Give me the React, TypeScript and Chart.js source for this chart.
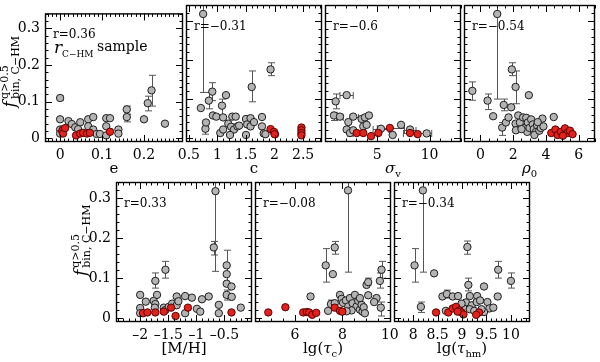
import React, { useEffect, useRef } from "react";
import { Chart, registerables } from "chart.js";
Chart.register(...registerables);

type Pt = [number, number];
type Bar = [number, number, number];

// ---------- shared y axis ----------
const fTicks = [0, 0.1, 0.2, 0.3];
const fMin = -0.01;
const fMax = 0.341;
const fMinorStep = 0.02;

// ---------- panel 1 : e ----------
const eTicks = [0, 0.1, 0.2];
const eGray: Pt[] = [[0.0,0.110],[0.0,0.052],[0.0,0.024],[0.0,0.013],[0.007,0.025],[0.02,0.047],[0.028,0.039],[0.036,0.030],[0.048,0.044],[0.043,0.025],[0.067,0.052],[0.079,0.058],[0.067,0.033],[0.079,0.024],[0.087,0.012],[0.095,0.012],[0.11,0.055],[0.119,0.055],[0.11,0.033],[0.11,0.008],[0.139,0.024],[0.139,0.013],[0.159,0.079],[0.159,0.058],[0.2,0.052],[0.209,0.096],[0.218,0.131],[0.25,0.04]];
const eRed: Pt[] = [[0.005,0.02],[0.007,0.013],[0.012,0.028],[0.038,0.008],[0.048,0.013],[0.055,0.015],[0.064,0.013],[0.071,0.015],[0.119,0.018]];
const eErr: Bar[] = [[0,0.104,0.116],[0.159,0.066,0.088],[0.159,0.045,0.065],[0.209,0.075,0.115],[0.218,0.088,0.172]];

// ---------- panel 2 : c ----------
const cTicks = [0.5, 1, 1.5, 2, 2.5];
const cGray: Pt[] = [[0.75,0.318],[0.71,0.077],[0.79,0.024],[0.8,0.04],[0.85,0.096],[0.91,0.119],[0.92,0.058],[0.98,0.055],[1.08,0.083],[1.15,0.11],[1.1,0.053],[1.05,0.013],[1.1,0.022],[1.19,0.037],[1.24,0.029],[1.26,0.055],[1.32,0.055],[1.29,0.022],[1.35,0.03],[1.38,0.032],[1.22,0.008],[1.5,0.008],[1.5,0.049],[1.52,0.035],[1.58,0.051],[1.58,0.03],[1.64,0.041],[1.6,0.131],[1.78,0.054],[1.78,0.03],[1.81,0.012],[1.84,0.01],[1.93,0.176],[2.01,0.01]];
const cRed: Pt[] = [[1.93,0.023],[1.99,0.016],[2.0,0.01],[2.47,0.027],[2.47,0.02],[2.47,0.013],[2.47,0.007]];
const cErr: Bar[] = [[0.75,0.117,0.36],[0.79,0.01,0.04],[0.85,0.075,0.117],[0.91,0.096,0.142],[1.08,0.058,0.1],[1.6,0.093,0.172],[1.93,0.16,0.193]];

// ---------- panel 3 : sigma_v ----------
const sTicks = [5, 10];
const sGray: Pt[] = [[2.07,0.11],[1.02,0.094],[0.86,0.058],[1.43,0.055],[2.23,0.041],[2.7,0.055],[3.5,0.049],[3.82,0.053],[4.2,0.058],[2.07,0.022],[2.39,0.013],[2.7,0.02],[3.66,0.03],[3.98,0.034],[5.35,0.024],[7.27,0.034],[8.13,0.022],[9.72,0.012],[6.47,0.008]];
const sRed: Pt[] = [[3.03,0.013],[3.66,0.013],[4.4,0.005],[5.1,0.013],[6.2,0.026],[8.13,0.013],[8.86,0.01]];
const sErr: Bar[] = [[1.02,0.075,0.113],[0.86,0.045,0.066],[2.39,0.005,0.02]];
const sErrX: Bar[] = [[0.11,1.43,2.7],[0.055,1.1,1.75],[0.055,2.4,3.2],[0.024,4.6,6.1],[0.026,5.0,7.6],[0.022,7.6,8.7],[0.013,7.5,8.7],[0.012,8.1,10.2]];

// ---------- panel 4 : rho_0 ----------
const rTicks = [0, 2, 4, 6];
const rGray: Pt[] = [[-0.49,0.121],[0.44,0.096],[0.78,0.056],[1.03,0.318],[1.43,0.085],[1.33,0.027],[1.56,0.04],[1.72,0.053],[1.88,0.079],[1.92,0.176],[2.15,0.131],[2.15,0.037],[2.17,0.02],[2.31,0.058],[2.41,0.04],[2.61,0.053],[2.75,0.027],[2.8,0.052],[2.9,0.04],[2.86,0.016],[3.0,0.026],[3.1,0.048],[3.2,0.035],[3.26,0.023],[3.4,0.016],[3.46,0.033],[3.3,0.008],[3.6,0.019],[3.69,0.026],[3.85,0.03],[3.79,0.05],[3.5,0.041],[2.51,0.023],[2.96,0.11],[4.48,0.054]];
const rRed: Pt[] = [[4.33,0.013],[4.58,0.022],[4.72,0.008],[4.92,0.016],[5.17,0.025],[5.31,0.013],[5.47,0.019],[5.63,0.01],[5.04,0.006]];
const rErr: Bar[] = [[-0.49,0.097,0.144],[0.44,0.073,0.113],[1.03,0.1,0.36],[1.43,0.07,0.1],[1.33,0.007,0.04],[1.92,0.16,0.193],[2.15,0.088,0.172]];

// ---------- panel 5 : [M/H] ----------
const mTicks = [-2, -1.5, -1, -0.5];
const mGray: Pt[] = [[-0.66,0.318],[-0.69,0.177],[-0.46,0.132],[-0.46,0.11],[-0.46,0.086],[-0.46,0.058],[-0.375,0.079],[-0.37,0.053],[-0.6,0.033],[-0.6,0.012],[-0.21,0.026],[-0.78,0.054],[-0.9,0.047],[-0.99,0.023],[-0.93,0.016],[-1.08,0.051],[-1.2,0.055],[-1.35,0.054],[-1.2,0.012],[-1.55,0.121],[-1.73,0.093],[-2.0,0.058],[-2.0,0.025],[-2.0,0.012],[-1.9,0.041],[-1.76,0.043],[-1.73,0.035],[-1.74,0.026],[-1.7,0.058],[-1.58,0.026],[-1.55,0.02],[-1.49,0.028],[-1.43,0.036],[-1.35,0.032],[-1.32,0.042]];
const mRed: Pt[] = [[-1.95,0.012],[-1.87,0.014],[-1.73,0.014],[-1.58,0.016],[-1.45,0.026],[-1.37,0.005],[-1.15,0.026],[-0.375,0.014]];
const mErr: Bar[] = [[-0.66,0.117,0.36],[-0.69,0.158,0.192],[-0.46,0.087,0.17],[-1.55,0.1,0.142],[-1.73,0.075,0.113],[-0.46,0.045,0.07]];

// ---------- panel 6 : lg(tau_c) ----------
const tcTicks = [6, 8, 10];
const tcGray: Pt[] = [[7.3,0.132],[7.68,0.177],[7.6,0.11],[8.24,0.32],[6.66,0.054],[7.4,0.018],[7.52,0.035],[7.68,0.037],[7.9,0.058],[7.97,0.048],[8.03,0.038],[8.15,0.044],[8.25,0.029],[8.32,0.05],[8.43,0.037],[8.53,0.058],[8.6,0.029],[8.67,0.043],[8.74,0.021],[8.81,0.033],[8.85,0.016],[8.9,0.027],[8.95,0.012],[8.74,0.05],[8.39,0.019],[8.18,0.017],[9.09,0.057],[9.02,0.083],[9.09,0.09],[9.44,0.05],[9.34,0.04],[9.58,0.093],[9.65,0.121],[9.62,0.026]];
const tcRed: Pt[] = [[4.88,0.014],[5.6,0.027],[6.35,0.014],[6.5,0.015],[6.6,0.014],[6.73,0.008],[6.9,0.013],[7.68,0.026],[7.9,0.018],[8.0,0.016]];
const tcErr: Bar[] = [[7.3,0.09,0.174],[7.68,0.16,0.192],[8.24,0.115,0.36],[9.58,0.075,0.113],[9.65,0.1,0.142],[9.62,0.005,0.04],[7.52,0.025,0.045],[9.09,0.083,0.1]];

// ---------- panel 7 : lg(tau_hm) ----------
const thTicks = [8, 8.5, 9, 9.5, 10];
const thGray: Pt[] = [[8.2,0.32],[8.03,0.132],[8.16,0.028],[8.43,0.112],[8.6,0.054],[8.69,0.06],[8.81,0.054],[8.92,0.055],[8.67,0.018],[9.11,0.178],[9.13,0.083],[9.45,0.079],[9.74,0.121],[10.0,0.093],[9.73,0.054],[9.16,0.055],[9.31,0.055],[9.08,0.039],[9.2,0.032],[9.3,0.04],[9.37,0.044],[9.52,0.04],[9.56,0.024],[9.64,0.026],[9.45,0.015],[9.03,0.024],[9.16,0.022],[9.25,0.018],[9.4,0.022],[8.99,0.036]];
const thRed: Pt[] = [[8.47,0.014],[8.72,0.014],[8.81,0.024],[8.88,0.028],[8.95,0.019],[8.99,0.014],[9.03,0.009],[9.35,0.014],[9.29,0.008],[8.91,0.016]];
const thErr: Bar[] = [[8.2,0.115,0.36],[8.03,0.09,0.174],[8.16,0.014,0.04],[8.69,0.05,0.07],[9.11,0.16,0.193],[9.13,0.068,0.1],[9.74,0.1,0.142],[10.0,0.075,0.113]];

const rValues = ["r=0.36", "r=\u22120.31", "r=\u22120.6", "r=\u22120.54", "r=0.33", "r=\u22120.08", "r=\u22120.34"];

// ---------- layout ----------
type Run = { t: string; sub?: boolean; it?: boolean };
interface Spec {
  id: string;
  box: [number, number, number, number];
  xMin: number; xMax: number; xTicks: number[]; xMinor: number;
  yLabels: boolean;
  gray: Pt[]; red: Pt[]; errY: Bar[]; errX: Bar[];
  r: string; title: Run[]; sample?: boolean;
}

const FONT = "'DejaVu Serif', serif";
const XH = 30;
const YW = 40;

const specs: Spec[] = [
  { id: "e", box: [45, 3, 183, 142], xMin: -0.036, xMax: 0.293, xTicks: eTicks, xMinor: 0.01, yLabels: true, gray: eGray, red: eRed, errY: eErr, errX: [], r: rValues[0], title: [{ t: "e" }], sample: true },
  { id: "c", box: [186, 3, 322, 142], xMin: 0.45, xMax: 2.83, xTicks: cTicks, xMinor: 0.1, yLabels: false, gray: cGray, red: cRed, errY: cErr, errX: [], r: rValues[1], title: [{ t: "c" }] },
  { id: "s", box: [325, 3, 461, 142], xMin: 0, xMax: 13, xTicks: sTicks, xMinor: 1, yLabels: false, gray: sGray, red: sRed, errY: sErr, errX: sErrX, r: rValues[2], title: [{ t: "\u03C3", it: true }, { t: "v", sub: true }] },
  { id: "r", box: [464, 3, 599, 142], xMin: -1, xMax: 7, xTicks: rTicks, xMinor: 0.5, yLabels: false, gray: rGray, red: rRed, errY: rErr, errX: [], r: rValues[3], title: [{ t: "\u03C1", it: true }, { t: "0", sub: true }] },
  { id: "m", box: [116, 182, 252, 322], xMin: -2.43, xMax: -0.01, xTicks: mTicks, xMinor: 0.1, yLabels: true, gray: mGray, red: mRed, errY: mErr, errX: [], r: rValues[4], title: [{ t: "[M/H]" }] },
  { id: "tc", box: [255, 182, 391, 322], xMin: 4.32, xMax: 10.05, xTicks: tcTicks, xMinor: 0.5, yLabels: false, gray: tcGray, red: tcRed, errY: tcErr, errX: [], r: rValues[5], title: [{ t: "lg(" }, { t: "\u03C4", it: true }, { t: "c", sub: true }, { t: ")" }] },
  { id: "th", box: [394, 182, 530, 322], xMin: 7.61, xMax: 10.39, xTicks: thTicks, xMinor: 0.1, yLabels: false, gray: thGray, red: thRed, errY: thErr, errX: [], r: rValues[6], title: [{ t: "lg(" }, { t: "\u03C4", it: true }, { t: "hm", sub: true }, { t: ")" }] },
];

const fmt = (v: number) => String(Math.round(v * 1000) / 1000).replace("-", "\u2013");

function minorVals(min: number, max: number, step: number): number[] {
  const out: number[] = [];
  const i0 = Math.ceil(min / step - 1e-6);
  const i1 = Math.floor(max / step + 1e-6);
  for (let i = i0; i <= i1; i++) out.push(i * step);
  return out;
}

function drawRuns(ctx: CanvasRenderingContext2D, runs: Run[], x: number, y: number, size: number, center: boolean) {
  const fontOf = (r: Run) => `${r.it ? "italic " : ""}${r.sub ? Math.round(size * 0.68) : size}px ${FONT}`;
  let w = 0;
  for (const r of runs) { ctx.font = fontOf(r); w += ctx.measureText(r.t).width; }
  let cx = center ? x - w / 2 : x;
  ctx.textBaseline = "alphabetic";
  ctx.textAlign = "left";
  for (const r of runs) {
    ctx.font = fontOf(r);
    ctx.fillText(r.t, cx, y + (r.sub ? size * 0.28 : 0));
    cx += ctx.measureText(r.t).width;
  }
}

function drawYTitle(ctx: CanvasRenderingContext2D, x: number, y: number) {
  ctx.save();
  ctx.translate(x, y);
  ctx.rotate(-Math.PI / 2);
  ctx.fillStyle = "#000";
  ctx.textBaseline = "alphabetic";
  ctx.textAlign = "left";
  ctx.font = `italic 17px ${FONT}`;
  ctx.fillText("f", 0, 0);
  const x0 = ctx.measureText("f").width + 2;
  ctx.font = `11px ${FONT}`;
  ctx.fillText("q>0.5", x0, -7);
  ctx.fillText("bin, C\u2212HM", x0, 4);
  ctx.restore();
}

const decor = {
  id: "decor",
  beforeDatasetsDraw(chart: any) {
    const spec: Spec = chart.options.plugins.decor.spec;
    const { ctx, chartArea: a } = chart;
    const xs = chart.scales.x, ys = chart.scales.y;
    ctx.save();
    ctx.beginPath();
    ctx.rect(a.left, a.top, a.right - a.left, a.bottom - a.top);
    ctx.clip();
    ctx.strokeStyle = "#555";
    ctx.lineWidth = 1;
    const cap = 3.5;
    for (const [x, lo, hi] of spec.errY) {
      const px = Math.round(xs.getPixelForValue(x)) + 0.5;
      const p1 = ys.getPixelForValue(lo), p2 = ys.getPixelForValue(hi);
      ctx.beginPath();
      ctx.moveTo(px, p1); ctx.lineTo(px, p2);
      ctx.moveTo(px - cap, p1); ctx.lineTo(px + cap, p1);
      ctx.moveTo(px - cap, p2); ctx.lineTo(px + cap, p2);
      ctx.stroke();
    }
    for (const [y, lo, hi] of spec.errX) {
      const py = Math.round(ys.getPixelForValue(y)) + 0.5;
      const p1 = xs.getPixelForValue(lo), p2 = xs.getPixelForValue(hi);
      ctx.beginPath();
      ctx.moveTo(p1, py); ctx.lineTo(p2, py);
      ctx.moveTo(p1, py - cap); ctx.lineTo(p1, py + cap);
      ctx.moveTo(p2, py - cap); ctx.lineTo(p2, py + cap);
      ctx.stroke();
    }
    ctx.restore();
  },
  afterDraw(chart: any) {
    const spec: Spec = chart.options.plugins.decor.spec;
    const { ctx, chartArea: a } = chart;
    const xs = chart.scales.x, ys = chart.scales.y;
    ctx.save();
    ctx.strokeStyle = "#000";
    ctx.lineWidth = 1;
    const majL = 7, minL = 3.5;
    ctx.beginPath();
    const tickX = (v: number, len: number) => {
      const px = Math.round(xs.getPixelForValue(v)) + 0.5;
      ctx.moveTo(px, a.bottom); ctx.lineTo(px, a.bottom - len);
      ctx.moveTo(px, a.top); ctx.lineTo(px, a.top + len);
    };
    const tickY = (v: number, len: number) => {
      const py = Math.round(ys.getPixelForValue(v)) + 0.5;
      ctx.moveTo(a.left, py); ctx.lineTo(a.left + len, py);
      ctx.moveTo(a.right, py); ctx.lineTo(a.right - len, py);
    };
    minorVals(spec.xMin, spec.xMax, spec.xMinor).forEach(v => tickX(v, minL));
    spec.xTicks.forEach(v => tickX(v, majL));
    minorVals(fMin, fMax, fMinorStep).forEach(v => tickY(v, minL));
    fTicks.forEach(v => tickY(v, majL));
    ctx.stroke();
    ctx.lineWidth = 1.4;
    ctx.strokeRect(a.left + 0.5, a.top + 0.5, a.right - a.left - 1, a.bottom - a.top - 1);

    ctx.fillStyle = "#000";
    ctx.font = `12px ${FONT}`;
    ctx.textAlign = "left";
    ctx.textBaseline = "alphabetic";
    ctx.fillText(spec.r, a.left + 8, a.top + 25);

    if (spec.sample) {
      drawRuns(ctx, [{ t: "r", it: true }], a.left + 9, a.top + 40, 17, false);
      ctx.font = `9px ${FONT}`;
      ctx.fillText("C\u2212HM", a.left + 17, a.top + 44);
      ctx.font = `14px ${FONT}`;
      ctx.fillText("sample", a.left + 52, a.top + 38);
    }

    drawRuns(ctx, spec.title, (a.left + a.right) / 2, a.bottom + 31, 15, true);

    if (spec.yLabels) drawYTitle(ctx, a.left - 30, a.top + 94);
    ctx.restore();
  },
};

function Panel({ spec }: { spec: Spec }) {
  const ref = useRef<HTMLCanvasElement>(null);
  useEffect(() => {
    const [l, t, r, b] = spec.box;
    const yW = spec.yLabels ? YW : 0;
    const tickFont = { family: FONT, size: 14 };
    const chart = new Chart(ref.current as HTMLCanvasElement, {
      type: "scatter",
      data: {
        datasets: [
          { data: spec.gray.map(([x, y]) => ({ x, y })), backgroundColor: "#b4b4b4", borderColor: "#1e1e1e", borderWidth: 1, pointRadius: 3.7, order: 1 },
          { data: spec.red.map(([x, y]) => ({ x, y })), backgroundColor: "#e2231d", borderColor: "#5c0000", borderWidth: 1, pointRadius: 3.7, order: 0 },
        ],
      },
      options: {
        animation: false,
        responsive: false,
        devicePixelRatio: 1,
        events: [],
        layout: { padding: { left: l - yW, top: t, right: 600 - r, bottom: 362 - b - XH } },
        plugins: { legend: { display: false }, tooltip: { enabled: false }, decor: { spec } } as any,
        scales: {
          x: {
            type: "linear",
            min: spec.xMin,
            max: spec.xMax,
            afterBuildTicks: (s: any) => { s.ticks = spec.xTicks.map(v => ({ value: v })); },
            afterFit: (s: any) => { s.height = XH; },
            grid: { display: false, drawTicks: false },
            border: { display: false },
            ticks: { font: tickFont, color: "#000", padding: 5, maxRotation: 0, autoSkip: false, callback: (v: any) => fmt(Number(v)) },
          },
          y: {
            type: "linear",
            display: spec.yLabels,
            min: fMin,
            max: fMax,
            afterBuildTicks: (s: any) => { s.ticks = fTicks.map(v => ({ value: v })); },
            afterFit: (s: any) => { s.width = yW; },
            grid: { display: false, drawTicks: false },
            border: { display: false },
            ticks: { font: tickFont, color: "#000", padding: 5, autoSkip: false, callback: (v: any) => fmt(Number(v)) },
          },
        },
      } as any,
      plugins: [decor],
    });
    return () => chart.destroy();
  }, [spec]);
  return <canvas ref={ref} width={600} height={362} style={{ position: "absolute", left: 0, top: 0, width: 600, height: 362 }} />;
}

export default function App() {
  return (
    <div style={{ position: "absolute", left: 0, top: 0, width: 600, height: 362, background: "#fff", overflow: "hidden" }}>
      {specs.map(s => <Panel key={s.id} spec={s} />)}
    </div>
  );
}
